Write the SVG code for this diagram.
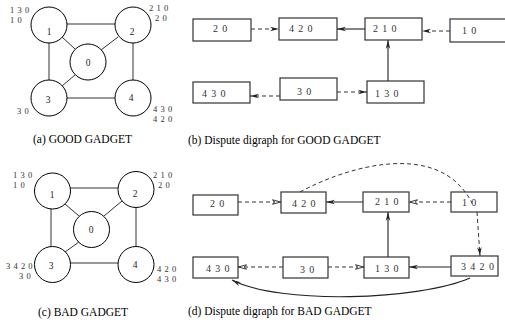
<svg xmlns="http://www.w3.org/2000/svg" width="505" height="326" viewBox="0 0 505 326">
<defs>
<style>
.bg{fill:#fff}
.c{fill:#fff;stroke:#000;stroke-width:1}
.e{stroke:#333;stroke-width:1;fill:none}
.b{fill:#fff;stroke:#333;stroke-width:1.2}
.s{stroke:#222;stroke-width:1.1;fill:none}
.d{stroke:#333;stroke-width:1;fill:none;stroke-dasharray:4 3}
.nl{font-family:"Liberation Serif",serif;font-size:9.5px;fill:#222;text-anchor:middle}
.cl{font-family:"Liberation Serif",serif;font-size:8.5px;fill:#333;letter-spacing:3.2px}
.bt{font-family:"Liberation Serif",serif;font-size:10px;fill:#333;letter-spacing:4.3px}
.cap{font-family:"Liberation Serif",serif;font-size:11.5px;fill:#000}
</style>
<marker id="ah" viewBox="0 0 10 6" refX="10" refY="3" markerWidth="9" markerHeight="5.4" markerUnits="userSpaceOnUse" orient="auto">
<path d="M0,0.5 L10,3 L0,5.5 L3,3 Z" fill="#222"/>
</marker>
<marker id="ao" viewBox="0 0 10 6" refX="10" refY="3" markerWidth="9" markerHeight="5.4" markerUnits="userSpaceOnUse" orient="auto">
<path d="M0.5,0.5 L9.5,3 L0.5,5.5 L3,3 Z" fill="#fff" stroke="#222" stroke-width="1"/>
</marker>
</defs>
<rect class="bg" x="0" y="0" width="505" height="326"/>

<!-- (a) GOOD GADGET -->
<g id="graph-a-edges">
<line class="e" x1="67" y1="24" x2="115" y2="24"/>
<line class="e" x1="49" y1="43" x2="49" y2="80"/>
<line class="e" x1="133" y1="43" x2="133" y2="80"/>
<line class="e" x1="67" y1="98" x2="115" y2="98"/>
<line class="e" x1="62" y1="37" x2="75" y2="49"/>
<line class="e" x1="118" y1="37" x2="101" y2="50"/>
<line class="e" x1="62" y1="86" x2="75" y2="75"/>
</g>
<g id="a-n1"><circle class="c" cx="49" cy="25" r="18"/><text class="nl" x="49" y="35">1</text></g>
<g id="a-n2"><circle class="c" cx="133" cy="25" r="18"/><text class="nl" x="132" y="35">2</text></g>
<g id="a-n0"><circle class="c" cx="88" cy="62" r="18"/><text class="nl" x="88" y="66">0</text></g>
<g id="a-n3"><circle class="c" cx="49" cy="98" r="18"/><text class="nl" x="48" y="103">3</text></g>
<g id="a-n4"><circle class="c" cx="133" cy="98" r="18"/><text class="nl" x="131" y="101">4</text></g>
<g id="a-labels">
<text class="cl" x="10" y="13">130</text>
<text class="cl" x="10" y="23">10</text>
<text class="cl" x="149" y="11">210</text>
<text class="cl" x="155" y="21">20</text>
<text class="cl" x="17" y="114">30</text>
<text class="cl" x="153" y="112">430</text>
<text class="cl" x="153" y="122">420</text>
</g>
<text class="cap" x="33" y="143">(a) GOOD GADGET</text>

<!-- (b) Dispute digraph for GOOD GADGET -->
<g id="b-connectors">
<line class="d" x1="251" y1="29" x2="279" y2="29" marker-end="url(#ah)"/>
<line class="s" x1="365" y1="29" x2="337" y2="29" marker-end="url(#ah)"/>
<line class="d" x1="450" y1="31" x2="422" y2="31" marker-end="url(#ah)"/>
<line class="s" x1="388" y1="81" x2="388" y2="40" marker-end="url(#ah)"/>
<line class="d" x1="280" y1="96" x2="250" y2="96" marker-end="url(#ah)"/>
<line class="d" x1="337" y1="92" x2="367" y2="92" marker-end="url(#ah)"/>
</g>
<g id="b-20"><rect class="b" x="193" y="19" width="58" height="22"/><text class="bt" x="213" y="32">20</text></g>
<g id="b-420"><rect class="b" x="279" y="18" width="58" height="22"/><text class="bt" x="289" y="31.5">420</text></g>
<g id="b-210"><rect class="b" x="365" y="18" width="57" height="22"/><text class="bt" x="373" y="31.5">210</text></g>
<g id="b-10"><rect class="b" x="450" y="19" width="60" height="23"/><text class="bt" x="462" y="34">10</text></g>
<g id="b-430"><rect class="b" x="193" y="82" width="57" height="21"/><text class="bt" x="202" y="97">430</text></g>
<g id="b-30"><rect class="b" x="280" y="78" width="57" height="22"/><text class="bt" x="297" y="95">30</text></g>
<g id="b-130"><rect class="b" x="367" y="81" width="57" height="22"/><text class="bt" x="375" y="97">130</text></g>
<text class="cap" x="188" y="144">(b) Dispute digraph for GOOD GADGET</text>

<!-- (c) BAD GADGET -->
<g id="graph-c-edges">
<line class="e" x1="70" y1="188" x2="118" y2="188"/>
<line class="e" x1="51" y1="209" x2="51" y2="247"/>
<line class="e" x1="136" y1="207" x2="136" y2="247"/>
<line class="e" x1="70" y1="263" x2="118" y2="263"/>
<line class="e" x1="65" y1="204" x2="79" y2="216"/>
<line class="e" x1="122" y1="201" x2="104" y2="216"/>
<line class="e" x1="65" y1="252" x2="79" y2="242"/>
</g>
<g id="c-n1"><circle class="c" cx="52.5" cy="191" r="18"/><text class="nl" x="52" y="198">1</text></g>
<g id="c-n2"><circle class="c" cx="136" cy="189.5" r="18"/><text class="nl" x="135" y="197">2</text></g>
<g id="c-n0"><circle class="c" cx="91.5" cy="229.5" r="18"/><text class="nl" x="91" y="233">0</text></g>
<g id="c-n3"><circle class="c" cx="52.5" cy="264.5" r="18"/><text class="nl" x="51" y="269">3</text></g>
<g id="c-n4"><circle class="c" cx="136" cy="264.5" r="18"/><text class="nl" x="135" y="268">4</text></g>
<g id="c-labels">
<text class="cl" x="13" y="178">130</text>
<text class="cl" x="13" y="188">10</text>
<text class="cl" x="153" y="178">210</text>
<text class="cl" x="158" y="188">20</text>
<text class="cl" x="6" y="269">3420</text>
<text class="cl" x="19" y="279">30</text>
<text class="cl" x="157" y="272">420</text>
<text class="cl" x="157" y="282">430</text>
</g>
<text class="cap" x="38" y="316">(c) BAD GADGET</text>

<!-- (d) Dispute digraph for BAD GADGET -->
<g id="d-connectors">
<line class="d" x1="238" y1="202" x2="281" y2="202" marker-end="url(#ao)"/>
<line class="s" x1="363" y1="202" x2="326" y2="202" marker-end="url(#ah)"/>
<line class="d" x1="451" y1="202" x2="409" y2="202" marker-end="url(#ao)"/>
<line class="s" x1="388" y1="257" x2="388" y2="212" marker-end="url(#ah)"/>
<line class="d" x1="283" y1="267" x2="238" y2="267" marker-end="url(#ao)"/>
<line class="d" x1="328" y1="267" x2="364" y2="267" marker-end="url(#ao)"/>
<line class="s" x1="451" y1="267" x2="409" y2="267" marker-end="url(#ah)"/>
<line class="d" x1="477" y1="212" x2="480" y2="256" marker-end="url(#ah)"/>
<path class="d" d="M300,192 C350,165 440,140 472,203"/>
<path class="s" d="M470,278 C420,300 280,305 232,280" marker-end="url(#ah)"/>
</g>
<g id="d-20"><rect class="b" x="193" y="195" width="45" height="20"/><text class="bt" x="210" y="207">20</text></g>
<g id="d-420"><rect class="b" x="281" y="192" width="45" height="21"/><text class="bt" x="292" y="207">420</text></g>
<g id="d-210"><rect class="b" x="363" y="192" width="46" height="20"/><text class="bt" x="375" y="205">210</text></g>
<g id="d-10"><rect class="b" x="451" y="192" width="46" height="20" fill-opacity="0"/><text class="bt" x="462" y="206">10</text></g>
<g id="d-430"><rect class="b" x="193" y="257" width="45" height="21"/><text class="bt" x="206" y="272">430</text></g>
<g id="d-30"><rect class="b" x="283" y="257" width="45" height="21"/><text class="bt" x="300" y="273">30</text></g>
<g id="d-130"><rect class="b" x="364" y="257" width="45" height="21"/><text class="bt" x="375" y="272">130</text></g>
<g id="d-3420"><rect class="b" x="451" y="256" width="47" height="20"/><text class="bt" x="461" y="270">3420</text></g>
<text class="cap" x="188" y="315">(d) Dispute digraph for BAD GADGET</text>
</svg>
